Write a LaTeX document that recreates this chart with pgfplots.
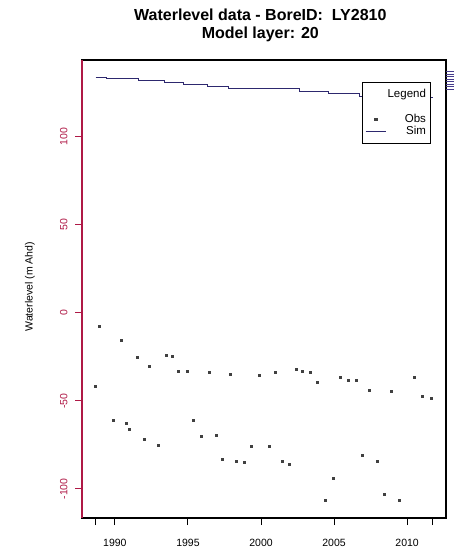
\documentclass[border=0pt]{standalone}
\usepackage{fontspec}
\setmainfont{Liberation Sans}
\usepackage{pgfplots}
\pgfplotsset{compat=1.18}
\definecolor{crim}{RGB}{175,25,70}
\definecolor{simc}{RGB}{45,40,110}
\definecolor{purp}{RGB}{70,60,140}
\begin{document}
\begin{tikzpicture}
\path[use as bounding box] (-82pt,-38pt) rectangle (386pt,518pt);
\begin{axis}[
  at={(0,0)}, anchor=south west,
  scale only axis, width=364pt, height=458pt,
  xmin=1987.75, xmax=2012.66, ymin=-116.5, ymax=143.7,
  clip=false,
  xtick={1988.68,1990,1995,2000,2005,2010,2011.74},
  xticklabels={,1990,1995,2000,2005,2010,},
  ytick={-100,-50,0,50,100},
  yticklabels={-100,-50,0,50,100},
  tick align=outside, major tick length=7pt,
  xtick pos=left, ytick pos=left,
  xticklabel style={font=\fontsize{10.5}{12}\selectfont, yshift=-11pt},
  yticklabel style={rotate=90, anchor=south, text=crim, font=\fontsize{10.5}{12}\selectfont, yshift=4pt},
  xtick style={black, line width=1pt},
  ytick style={crim, line width=1pt},
  axis line style={black, line width=1.2pt},
  ylabel={Waterlevel (m Ahd)},
  ylabel style={font=\fontsize{10.5}{12}\selectfont, at={(rel axis cs:-0.143,0.505)}, anchor=center},
  title={Waterlevel data - BoreID:\ \ LY2810\\Model layer: 20},
  title style={align=center, font=\bfseries\fontsize{16}{18}\selectfont, at={(rel axis cs:0.49,1)}, anchor=south, yshift=9pt},
  legend style={at={(rel axis cs:0.769,0.952)}, anchor=north west, draw=black, fill=white,
    font=\fontsize{11.5}{12}\selectfont, inner xsep=3pt, inner ysep=6pt,
    nodes={inner sep=1.2pt}, legend cell align=right},
  legend image post style={xscale=1.2},
]
\addlegendimage{empty legend}
\addlegendentry[text depth=14pt]{Legend}
\addplot[only marks, mark=square*, mark size=1pt, color=black!75] coordinates {
(1988.63,-41.9) (1988.90,-7.4) (1989.86,-61.2) (1990.41,-15.3) (1990.75,-62.9)
(1990.96,-65.9) (1991.51,-25.4) (1991.99,-72.0) (1992.37,-30.1) (1992.95,-75.0)
(1993.49,-23.9) (1993.95,-24.6) (1994.36,-33.0) (1994.93,-33.0) (1995.34,-61.2)
(1995.94,-70.3) (1996.46,-33.7) (1996.90,-69.5) (1997.33,-83.0) (1997.90,-34.8)
(1998.33,-84.1) (1998.88,-84.7) (1999.32,-75.8) (1999.89,-35.6) (2000.55,-75.8)
(2001.00,-33.7) (2001.42,-84.1) (2001.96,-86.0) (2002.40,-31.8) (2002.83,-33.0)
(2003.40,-33.7) (2003.86,-39.2) (2004.38,-106.6) (2004.95,-93.9) (2005.39,-36.6)
(2005.94,-38.4) (2006.49,-38.4) (2006.94,-81.1) (2007.38,-43.9) (2007.92,-84.1)
(2008.45,-103.2) (2008.92,-44.7) (2009.47,-106.6) (2010.46,-36.6) (2011.00,-47.5)
(2011.64,-48.3)
};
\addlegendentry{Obs}
\addplot[const plot, color=simc, line width=0.8pt, mark=none] coordinates {
(1988.68,134.0) (1989.45,133.0) (1991.60,132.0) (1993.40,131.0) (1994.70,130.0)
(1996.30,128.8) (1997.80,127.8) (2002.60,126.0) (2004.60,124.5) (2006.70,123.0)
(2009.50,122.3) (2011.74,122.3)
};
\addlegendentry{Sim}
\draw[black, line width=1.2pt] (rel axis cs:0,0) rectangle (rel axis cs:1,1);
\draw[crim, line width=1.2pt] (rel axis cs:0,0) -- (rel axis cs:0,1);
\end{axis}
\begin{axis}[
  at={(0,0)}, anchor=south west,
  scale only axis, width=364pt, height=458pt,
  xmin=1987.75, xmax=2012.66, ymin=-116.5, ymax=143.7,
  axis x line=none, axis y line*=right,
  y axis line style={draw=none},
  ytick={127.1,128.5,130,131.4,132.8,134.2,135.7,137.1},
  yticklabels={},
  tick align=outside, major tick length=8pt,
  ytick style={purp, line width=0.7pt},
]
\addplot[draw=none] coordinates {(2000,0)};
\end{axis}
\end{tikzpicture}
\end{document}
